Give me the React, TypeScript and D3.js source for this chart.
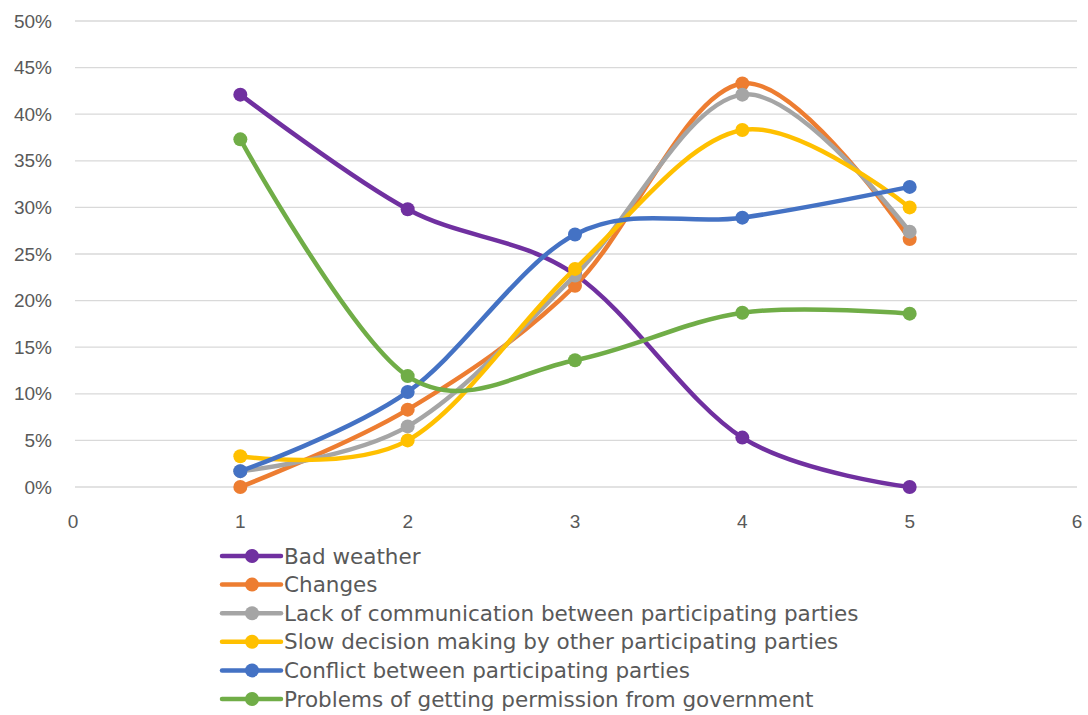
import React from "react";
import * as d3 from "d3";

const xValues = [1, 2, 3, 4, 5];
const seriesNames = [
  "Bad weather",
  "Changes",
  "Lack of communication between participating parties",
  "Slow decision making by other participating parties",
  "Conflict between participating parties",
  "Problems of getting permission from government",
];
const seriesColors = ["#7030A0", "#ED7D31", "#A5A5A5", "#FFC000", "#4472C4", "#70AD47"];
const badWeather = [0.421, 0.298, 0.228, 0.053, 0.0];
const changes = [0.0, 0.083, 0.216, 0.433, 0.266];
const lackCommunication = [0.017, 0.065, 0.227, 0.421, 0.274];
const slowDecision = [0.033, 0.05, 0.234, 0.383, 0.3];
const conflict = [0.017, 0.102, 0.271, 0.289, 0.322];
const permission = [0.373, 0.119, 0.136, 0.187, 0.186];
const seriesValues = [badWeather, changes, lackCommunication, slowDecision, conflict, permission];
const yTicks = [0, 0.05, 0.1, 0.15, 0.2, 0.25, 0.3, 0.35, 0.4, 0.45, 0.5];
const xTicks = [0, 1, 2, 3, 4, 5, 6];

export default function App() {
  const W = 1088, H = 715;
  const x = d3.scaleLinear().domain([0, 6]).range([73, 1077]);
  const y = d3.scaleLinear().domain([0, 0.5]).range([487, 21]);
  const line = d3
    .line<[number, number]>()
    .x((d) => x(d[0]))
    .y((d) => y(d[1]))
    .curve(d3.curveCardinal.tension(0));
  const font = "'Liberation Sans', Arial, sans-serif";
  const legendFont = "'DejaVu Sans', sans-serif";
  const textColor = "#595959";
  const legendY0 = 556;
  const legendStep = 28.6;
  return (
    <svg width={W} height={H} style={{ position: "absolute", left: 0, top: 0 }} fontFamily={font}>
      <rect width={W} height={H} fill="#fff" />
      {yTicks.map((t) => (
        <g key={t}>
          <line x1={75} x2={1077} y1={y(t)} y2={y(t)} stroke="#D9D9D9" strokeWidth={1.3} />
          <text x={52} y={y(t)} dy="0.35em" textAnchor="end" fontSize={19} fill={textColor}>
            {d3.format(".0%")(t)}
          </text>
        </g>
      ))}
      {xTicks.map((t) => (
        <text key={t} x={x(t)} y={521} dy="0.35em" textAnchor="middle" fontSize={19} fill={textColor}>
          {t}
        </text>
      ))}
      {seriesValues.map((vals, i) => {
        const pts = vals.map((v, j) => [xValues[j], v] as [number, number]);
        return (
          <g key={i}>
            <path d={line(pts) || ""} fill="none" stroke={seriesColors[i]} strokeWidth={4.5} strokeLinecap="round" />
            {pts.map((p, j) => (
              <circle key={j} cx={x(p[0])} cy={y(p[1])} r={7} fill={seriesColors[i]} />
            ))}
          </g>
        );
      })}
      {seriesNames.map((name, i) => {
        const ly = legendY0 + i * legendStep;
        return (
          <g key={name}>
            <line x1={222} x2={281} y1={ly} y2={ly} stroke={seriesColors[i]} strokeWidth={4.5} strokeLinecap="round" />
            <circle cx={252} cy={ly} r={7} fill={seriesColors[i]} />
            <text x={284} y={ly} dy="0.35em" fontSize={21.5} fontFamily={legendFont} fill={textColor}>
              {name}
            </text>
          </g>
        );
      })}
    </svg>
  );
}
